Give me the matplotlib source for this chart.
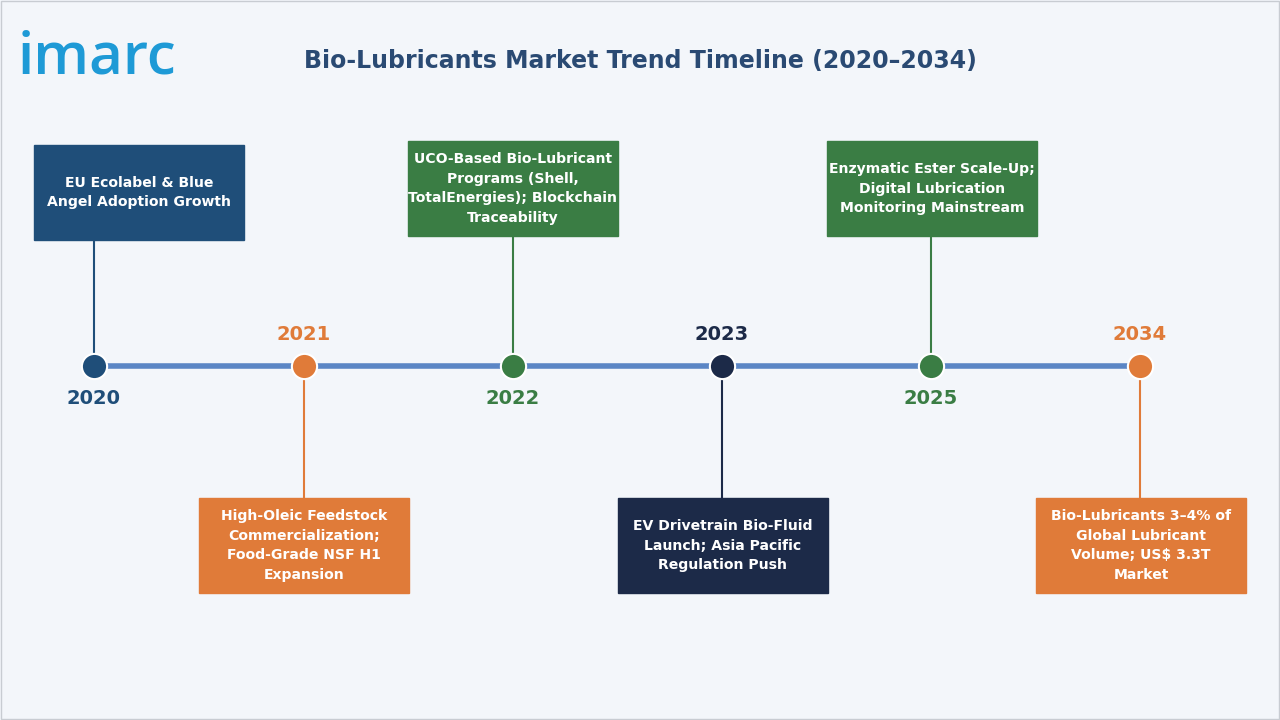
import matplotlib
matplotlib.use("Agg")
import matplotlib.pyplot as plt
from matplotlib.patches import Rectangle

years = ["2020", "2021", "2022", "2023", "2025", "2034"]
texts = [
    "EU Ecolabel & Blue\nAngel Adoption Growth",
    "High-Oleic Feedstock\nCommercialization;\nFood-Grade NSF H1\nExpansion",
    "UCO-Based Bio-Lubricant\nPrograms (Shell,\nTotalEnergies); Blockchain\nTraceability",
    "EV Drivetrain Bio-Fluid\nLaunch; Asia Pacific\nRegulation Push",
    "Enzymatic Ester Scale-Up;\nDigital Lubrication\nMonitoring Mainstream",
    "Bio-Lubricants 3\u20134% of\nGlobal Lubricant\nVolume; US$ 3.3T\nMarket",
]
colors = ["#1f4e79", "#e07b39", "#3a7d44", "#1c2a48", "#3a7d44", "#e07b39"]
xs = [94, 304, 513, 722, 931, 1140]
box_cx = [139, 304, 513, 723, 932, 1141]
box_tops = [145, 498, 141, 498, 141, 498]
above = [True, False, True, False, True, False]

fig = plt.figure(figsize=(12.8, 7.2), dpi=100)
fig.patch.set_facecolor("#f3f6fa")
ax = fig.add_axes([0, 0, 1, 1])
ax.set_xlim(0, 1280); ax.set_ylim(720, 0); ax.axis("off")
ax.add_patch(Rectangle((1, 1), 1278, 718, fill=False, ec="#c8ccd2", lw=1))

ax.text(18, 58, "imarc", fontsize=42, color="#1e9ad6", fontweight="semibold", va="center", ha="left", family="Open Sans")
ax.text(640, 61, "Bio-Lubricants Market Trend Timeline (2020\u20132034)", fontsize=17,
        color="#2a4a73", fontweight="bold", ha="center", va="center")

ty = 366
ax.plot([xs[0], xs[-1]], [ty, ty], color="#5b86c5", lw=4, zorder=1)
for x, bx, yr, t, c, bt, ab in zip(xs, box_cx, years, texts, colors, box_tops, above):
    bh = 95
    if ab:
        ax.plot([x, x], [bt + bh, ty], color=c, lw=1.5, zorder=1)
        ax.text(x, 398, yr, ha="center", va="center", fontsize=14, fontweight="bold", color=c)
    else:
        ax.plot([x, x], [ty, bt], color=c, lw=1.5, zorder=1)
        ax.text(x, 334, yr, ha="center", va="center", fontsize=14, fontweight="bold", color=c)
    ax.scatter([x], [ty], s=330, color=c, ec="white", lw=1.5, zorder=3)
    ax.add_patch(Rectangle((bx - 105, bt), 210, bh, color=c, zorder=2))
    ax.text(bx, bt + bh / 2, t, ha="center", va="center", fontsize=10.1, fontweight="bold",
            color="white", linespacing=1.5, zorder=3)

fig.savefig("out.png", dpi=100, facecolor=fig.get_facecolor())
